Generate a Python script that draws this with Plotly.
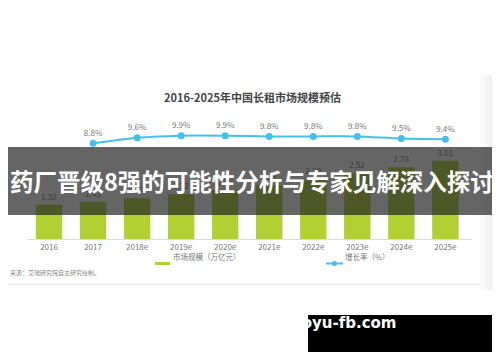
import plotly.graph_objects as go

# ---- data ----
categories = ["2016", "2017", "2018e", "2019e", "2020e", "2021e", "2022e", "2023e", "2024e", "2025e"]
market_size = [1.32, 1.43, 1.57, 1.72, 1.89, 2.08, 2.29, 2.52, 2.76, 3.01]
growth_categories = ["2017", "2018e", "2019e", "2020e", "2021e", "2022e", "2023e", "2024e", "2025e"]
growth_rate = [8.8, 9.6, 9.9, 9.9, 9.8, 9.8, 9.8, 9.5, 9.4]

title_text = "2016-2025年中国长租市场规模预估"
bar_name = "市场规模（万亿元）"
line_name = "增长率（%）"
source_text = "来源：艾瑞研究院自主研究绘制。"
banner_text = "药厂晋级8强的可能性分析与专家见解深入探讨"
watermark_text = "www.guoyu-fb.com"

# the page body has an 8px margin, so the figure starts at (8, 8) of the window
OFF = 8
W, H = 500 - OFF, 362 - OFF
CJK = "Noto Sans CJK SC"
BAR_C = "#b3d033"
LINE_C = "#46bfea"


def px(x):
    return (x - OFF) / W


def py(y):
    return 1 - (y - OFF) / H


fig = go.Figure()
fig.add_trace(go.Bar(
    x=categories, y=market_size, name=bar_name,
    marker=dict(color=BAR_C, line=dict(width=0)), width=0.6,
    text=[f"{v:.2f}" for v in market_size], textposition="outside",
    textfont=dict(size=8, color="#777777", family=CJK),
    cliponaxis=False, yaxis="y",
))
fig.add_trace(go.Scatter(
    x=growth_categories, y=growth_rate, name=line_name, mode="lines+markers+text",
    line=dict(color=LINE_C, width=2, shape="spline", smoothing=0.6),
    marker=dict(color=LINE_C, size=7),
    text=[f"{v:.1f}%" for v in growth_rate], textposition="top center",
    textfont=dict(size=8, color="#777777", family=CJK),
    cliponaxis=False, yaxis="y2",
))

plot_top, plot_bottom = 100, 239
shapes = []
# right side shadow of the card
n = 10
for i in range(n):
    g = int(254 - (254 - 226) * (i / (n - 1)) ** 1.5)
    shapes.append(dict(type="rect", xref="paper", yref="paper",
                       x0=px(477 + i * 2.3), x1=px(477 + (i + 1) * 2.3),
                       y0=py(290), y1=py(75), fillcolor=f"rgb({g},{g},{g})",
                       line=dict(width=0), layer="below"))
# bottom separator line
shapes.append(dict(type="line", xref="paper", yref="paper", x0=px(2), x1=px(480),
                   y0=py(284.5), y1=py(284.5), line=dict(color="#e2e2e2", width=1), layer="below"))
# legend symbols
shapes.append(dict(type="rect", xref="paper", yref="paper", x0=px(155), x1=px(170),
                   y0=py(265), y1=py(262), fillcolor=BAR_C, line=dict(width=0)))
shapes.append(dict(type="line", xref="paper", yref="paper", x0=px(326), x1=px(343),
                   y0=py(263.5), y1=py(263.5), line=dict(color=LINE_C, width=2)))
shapes.append(dict(type="circle", xref="paper", yref="paper", x0=px(332), x1=px(337),
                   y0=py(266), y1=py(261), fillcolor=LINE_C, line=dict(width=0)))
# banner
shapes.append(dict(type="rect", xref="paper", yref="paper", x0=px(2), x1=px(497),
                   y0=py(215), y1=py(147), fillcolor="rgba(35,35,35,0.7)",
                   line=dict(width=0), layer="above"))
# watermark box
shapes.append(dict(type="rect", xref="paper", yref="paper", x0=px(308), x1=px(492),
                   y0=py(352), y1=py(315), fillcolor="#000000",
                   line=dict(width=0), layer="above"))

annotations = [
    dict(text=title_text, x=px(252), y=py(87), xref="paper", yref="paper",
         showarrow=False, font=dict(size=11, color="#444444", family=CJK, weight="bold")),
    dict(text=bar_name, x=px(171), y=py(263.5), xref="paper", yref="paper", xanchor="left",
         showarrow=False, font=dict(size=7.5, color="#777777", family=CJK)),
    dict(text=line_name, x=px(343), y=py(263.5), xref="paper", yref="paper", xanchor="left",
         showarrow=False, font=dict(size=7.5, color="#777777", family=CJK)),
    dict(text=source_text, x=px(8), y=py(279), xref="paper", yref="paper", xanchor="left",
         showarrow=False, font=dict(size=6, color="#888888", family=CJK)),
    dict(text=banner_text, x=px(252), y=py(181), xref="paper", yref="paper",
         showarrow=False, font=dict(size=23.5, color="#ffffff", family=CJK, weight="bold")),
    dict(text=watermark_text, x=px(399), y=py(333.5), xref="paper", yref="paper",
         showarrow=False, font=dict(size=15, color="#ffffff", family="DejaVu Sans", weight="bold")),
]

fig.update_layout(
    width=W, height=H,
    margin=dict(l=0, r=0, t=0, b=0, pad=0),
    paper_bgcolor="#ffffff", plot_bgcolor="#ffffff",
    showlegend=False, bargap=0.4,
    xaxis=dict(domain=[px(27), px(472)], type="category", showgrid=False,
               showline=True, linecolor="#dcdcdc", linewidth=1, ticks="",
               tickfont=dict(size=8, color="#777777", family=CJK), zeroline=False),
    yaxis=dict(domain=[py(plot_bottom), py(plot_top)], range=[0, 139 / 26],
               visible=False, showgrid=False, zeroline=False),
    yaxis2=dict(domain=[py(plot_bottom), py(plot_top)], overlaying="y",
                range=[8.8 - (plot_bottom - 143.3) / 6.9, 8.8 + (143.3 - plot_top) / 6.9],
                visible=False, showgrid=False, zeroline=False),
    shapes=shapes, annotations=annotations,
)

fig.write_html("out.html")
